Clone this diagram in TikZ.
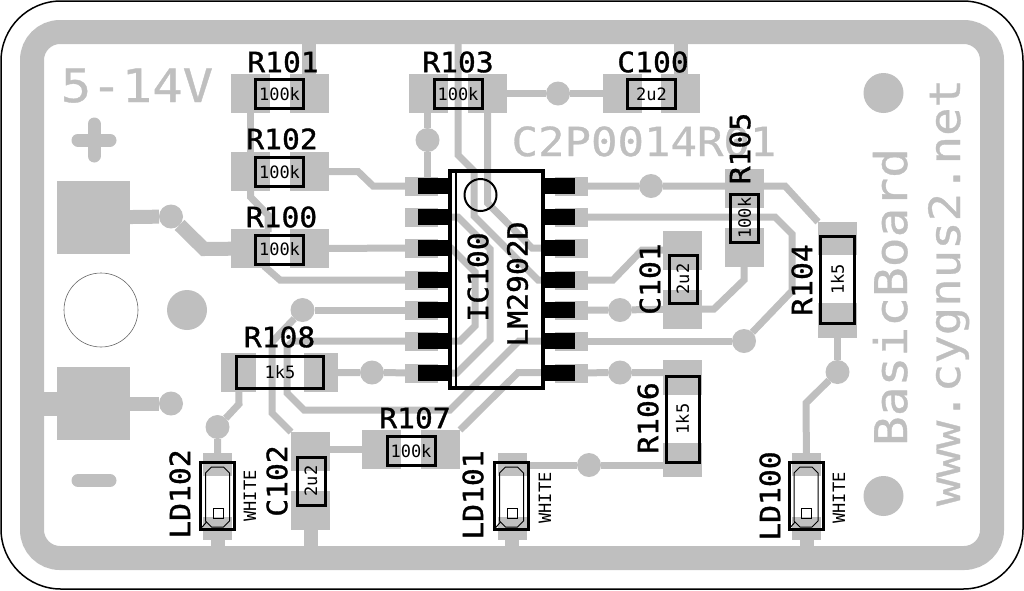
\documentclass[tikz,border=0pt]{standalone}
\usepackage{fontspec}
\newfontfamily\tagfont[FakeStretch=1.06,FakeBold=1.2]{DejaVu Sans Mono}
\newfontfamily\valfont{DejaVu Sans Mono}
\newfontfamily\copperfont[FakeStretch=1.1,FakeBold=0.8]{DejaVu Sans Mono}
\definecolor{copper}{HTML}{BFBFBF}
\begin{document}
\begin{tikzpicture}[x=1pt,y=-1pt,
	pad/.style={fill=copper,inner sep=0,outer sep=0,minimum width=39pt,minimum height=39pt},
	pinpad/.style={fill=copper,inner sep=0,outer sep=0,minimum width=33pt,minimum height=19pt},
	ledpad/.style={fill=copper,inner sep=0,outer sep=0,minimum width=29pt,minimum height=23pt},
	bigpad/.style={fill=copper,inner sep=0,outer sep=0,minimum size=73pt},
	via/.style={circle,fill=copper,inner sep=0,outer sep=0,minimum size=24pt},
	screw/.style={circle,fill=copper,inner sep=0,outer sep=0,minimum size=40pt},
	pin/.style={fill=black,inner sep=0,outer sep=0,minimum width=31pt,minimum height=16pt},
	trace/.style={draw=copper,line width=7pt},
	power/.style={draw=copper,line width=14pt},
	part/.style={draw=black,line width=3pt,inner sep=0,font=\valfont\fontsize{17}{17}\selectfont},
	tag/.style={inner sep=0,font=\tagfont\fontsize{28}{28}\selectfont},
	led/.style={inner sep=0,font=\valfont\fontsize{17}{17}\selectfont},
	ledbody/.pic={
		\draw[line width=1pt] (-12,-23) -- (-6,-29) -- (6,-29) -- (12,-23) -- (12,25) -- (6,31) -- (-6,31) -- (-12,25) -- cycle;
		\draw[line width=1pt] (-4.5,12) rectangle (5.5,22);
		\draw[line width=1pt] (-17,33) -- (-11,26);
	}]
	\useasboundingbox (0,0) rectangle (1024,590);
	\coordinate (railt) at (0,32);
	\coordinate (railb) at (0,558);
	\coordinate (raill) at (32,0);
	\coordinate (r100t) at (264,266);

	%board
	\draw[line width=1.5pt,rounded corners=60pt] (1,1) rectangle (1023,589);
	\draw[copper,line width=24pt,rounded corners=28pt] (32,32) rectangle (992,558);

	%copper text
	\node[copper,anchor=base,inner sep=0,font=\copperfont\fontsize{46}{46}\selectfont] (volt) at (137,102) {5-14V};
	\node[copper,anchor=base,inner sep=0,font=\copperfont\fontsize{40}{40}\selectfont] (rev) at (644,156) {C2P0014R01};
	\node[copper,anchor=base,inner sep=0,rotate=90,font=\copperfont\fontsize{45}{45}\selectfont] (brd) at (907,297) {BasicBoard};
	\node[copper,anchor=base,inner sep=0,rotate=90,font=\copperfont\fontsize{43}{43}\selectfont] (web) at (960,292.5) {www.cygnus2.net};
	\draw[copper,line width=13pt,line cap=round] (78,140) -- (110,140);
	\draw[copper,line width=13pt,line cap=round] (94,124) -- (94,156);
	\draw[copper,line width=13pt,line cap=round] (78,480.5) -- (110,480.5);

	%holes and screws
	\node[circle,draw=black!60,line width=.6pt,inner sep=0,minimum size=74pt] (hole) at (101,310) {};
	\node[screw] (scr1) at (187,310) {};
	\node[screw] (scr2) at (883.5,93) {};
	\node[screw] (scr3) at (883.5,496) {};

	%big pads
	\node[bigpad] (big1) at (93.5,217.5) {};
	\node[bigpad] (big2) at (93.5,403.5) {};

	%resistor pads
	\node[pad] (r101a) at (250.5,93.5) {};
	\node[pad] (r101b) at (309,93.5) {};
	\node[pad] (r102a) at (250.5,171.5) {};
	\node[pad] (r102b) at (309,171.5) {};
	\node[pad] (r100a) at (250.5,248.5) {};
	\node[pad] (r100b) at (309,248.5) {};
	\node[pad] (r103a) at (428.5,93.5) {};
	\node[pad] (r103b) at (487.5,93.5) {};
	\node[pad] (c100a) at (622,93.5) {};
	\node[pad] (c100b) at (680.5,93.5) {};
	\node[pad] (r105a) at (744,188.5) {};
	\node[pad] (r105b) at (744,247) {};
	\node[pad] (c101a) at (682.5,250) {};
	\node[pad] (c101b) at (682.5,309) {};
	\node[pad,minimum height=33pt] (r104a) at (837.5,238.5) {};
	\node[pad,minimum height=35pt] (r104b) at (837.5,320.5) {};
	\node[pad,minimum height=35pt] (r106a) at (682.5,377.5) {};
	\node[pad,minimum height=34pt] (r106b) at (682.5,460) {};
	\node[pad,minimum width=35pt] (r108a) at (238.5,372.5) {};
	\node[pad,minimum width=34pt] (r108b) at (321,372.5) {};
	\node[pad] (r107a) at (381.5,449.5) {};
	\node[pad] (r107b) at (440.5,449.5) {};
	\node[pad] (c102a) at (310.5,451.5) {};
	\node[pad] (c102b) at (310.5,510) {};

	%led pads
	\node[ledpad] (ld102a) at (217.5,464.5) {};
	\node[ledpad] (ld102b) at (217.5,528.5) {};
	\node[ledpad] (ld101a) at (512,464.5) {};
	\node[ledpad] (ld101b) at (512,528.5) {};
	\node[ledpad] (ld100a) at (806.5,464.5) {};
	\node[ledpad] (ld100b) at (806.5,528.5) {};

	%ic pads
	\node[pinpad] (pad1l) at (421.5,186) {};
	\node[pinpad] (pad2l) at (421.5,217) {};
	\node[pinpad] (pad3l) at (421.5,248) {};
	\node[pinpad] (pad4l) at (421.5,280) {};
	\node[pinpad] (pad5l) at (421.5,310) {};
	\node[pinpad] (pad6l) at (421.5,341) {};
	\node[pinpad] (pad7l) at (421.5,373) {};
	\node[pinpad] (pad1r) at (571.5,186) {};
	\node[pinpad] (pad2r) at (571.5,217) {};
	\node[pinpad] (pad3r) at (571.5,248) {};
	\node[pinpad] (pad4r) at (571.5,280) {};
	\node[pinpad] (pad5r) at (571.5,310) {};
	\node[pinpad] (pad6r) at (571.5,341) {};
	\node[pinpad] (pad7r) at (571.5,373) {};

	%vias
	\node[via] (via1) at (171,216.5) {};
	\node[via] (via2) at (427.5,140) {};
	\node[via] (via3) at (558,93.5) {};
	\node[via] (via4) at (651,186) {};
	\node[via] (via5) at (744,341) {};
	\node[via] (via6) at (620,310) {};
	\node[via] (via7) at (620,372.5) {};
	\node[via] (via8) at (589,465) {};
	\node[via] (via9) at (837.5,372) {};
	\node[via] (via10) at (217.5,427) {};
	\node[via] (via11) at (372,372.5) {};
	\node[via] (via12) at (302.5,310) {};
	\node[via] (via13) at (171,403.5) {};

	%power traces
	\draw[power] (r101b |- railt) -- (r101b);
	\draw[power] (c100b |- railt) -- (c100b);
	\draw[power] (ld102b) -- (ld102b |- railb);
	\draw[power] (ld101b) -- (ld101b |- railb);
	\draw[power] (ld100b) -- (ld100b |- railb);
	\draw[power] (c102b) -- (c102b |- railb);
	\draw[power] (big1) -- (via1) -- (204,249) -- (r100a);
	\draw[power] (big2) -- (via13);
	\draw[copper,line width=24pt] (raill |- big2) -- (big2);

	%signal traces
	\draw[trace] (r101a) -- (r102a);
	\draw[trace] (r102a) -- (250.5,197) -- (268,215) -- (268,232);
	\draw[trace] (r102b) -- (358,171.5) -- (373,186) -- (pad1l);
	\draw[trace] (r100b) -- (pad3l);
	\draw[trace] (r100t) -- (280,280) -- (pad4l);
	\draw[trace] (via2) -- (via2 |- r103a.south);
	\draw[trace] (via2) -- (via2 |- pad1l.north);
	\draw[trace] (458,32) -- (458,155) -- (474,171) -- (474,216) -- (538,280) -- (pad4r);
	\draw[trace] (r103b) -- (487.5,203) -- (532,248) -- (pad3r);
	\draw[trace] (r103b) -- (via3) -- (c100a);
	\draw[trace] (pad1r) -- (via4) -- (785,186) -- (r104a.north west);
	\draw[trace] (pad2r) -- (775,217) -- (792,234) -- (792,291) -- (via5);
	\draw[trace] (pad6r) -- (via5);
	\draw[trace] (pad4r) -- (613,280) -- (642,250) -- (c101a);
	\draw[trace] (pad5r) -- (via6) -- (c101b);
	\draw[trace] (c101b) -- (714,309) -- (744,280) -- (r105b);
	\draw[trace] (pad7r) -- (via7) -- (r106a.west |- via7);
	\draw[trace] (r106b.west |- via8) -- (via8) -- (ld101a.east |- via8);
	\draw[trace] (r104b) -- (via9);
	\draw[trace] (via9) -- (806,403) -- (ld100a);
	\draw[trace] (ld102a) -- (via10) -- (239,404) -- (r108a);
	\draw[trace] (r108b) -- (via11) -- (pad7l);
	\draw[trace] (via12) -- (pad5l);
	\draw[trace] (via12) -- (272,342) -- (272,413) -- (c102a.north west);
	\draw[trace] (pad6l) -- (293,341) -- (287,347) -- (287,393) -- (304,410) -- (450,410) -- (519,341) -- (pad6r);
	\draw[trace] (r107a -| c102a.east) -- (r107a);
	\draw[trace] (r107b.north east) -- (518,372.5) -- (pad7r);
	\draw[trace] (pad2l) -- (458,217) -- (490,249) -- (490,340) -- (457,373) -- (pad7l);
	\draw[trace] (pad3l) -- (451,248) -- (475,272) -- (475,326) -- (460,341) -- (pad6l);

	%ic pins
	\node[pin] (pin1l) at (433.5,186) {};
	\node[pin] (pin2l) at (433.5,217) {};
	\node[pin] (pin3l) at (433.5,248) {};
	\node[pin] (pin4l) at (433.5,280) {};
	\node[pin] (pin5l) at (433.5,310) {};
	\node[pin] (pin6l) at (433.5,341) {};
	\node[pin] (pin7l) at (433.5,373) {};
	\node[pin] (pin1r) at (559.5,186) {};
	\node[pin] (pin2r) at (559.5,217) {};
	\node[pin] (pin3r) at (559.5,248) {};
	\node[pin] (pin4r) at (559.5,280) {};
	\node[pin] (pin5r) at (559.5,310) {};
	\node[pin] (pin6r) at (559.5,341) {};
	\node[pin] (pin7r) at (559.5,373) {};

	%ic body
	\node[draw=black,line width=4pt,inner sep=0,minimum width=93pt,minimum height=217pt] (ic) at (496.5,279.5) {};
	\draw[line width=2.5pt] (ic.north west) ++ (8,0) -- ([xshift=8pt]ic.south west);
	\node[circle,draw=black,line width=2pt,inner sep=0,minimum size=32pt] (dot) at (480.5,195) {};

	%parts
	\node[part,minimum width=48pt,minimum height=29pt] (r101) at (279.5,94) {100k};
	\node[part,minimum width=48pt,minimum height=29pt] (r102) at (279.5,172) {100k};
	\node[part,minimum width=48pt,minimum height=29pt] (r100) at (279.5,249.5) {100k};
	\node[part,minimum width=48pt,minimum height=29pt] (r103) at (458,94) {100k};
	\node[part,minimum width=48pt,minimum height=29pt] (c100) at (651.5,94) {2u2};
	\node[part,minimum width=48pt,minimum height=29pt] (r107) at (411,451) {100k};
	\node[part,minimum width=87pt,minimum height=32pt] (r108) at (280,372) {1k5};
	\node[part,rotate=90,minimum width=48pt,minimum height=28pt] (r105) at (744.5,218) {100k};
	\node[part,rotate=90,minimum width=48pt,minimum height=28pt] (c101) at (683,279) {2u2};
	\node[part,rotate=90,minimum width=48pt,minimum height=28pt] (c102) at (311,481) {2u2};
	\node[part,rotate=90,minimum width=87pt,minimum height=34pt] (r104) at (837.5,279.5) {1k5};
	\node[part,rotate=90,minimum width=86pt,minimum height=33pt] (r106) at (682.5,419) {1k5};

	%leds
	\node[draw=black,line width=3pt,inner sep=0,minimum width=34pt,minimum height=67pt] (ld102) at (217.5,496) {};
	\node[draw=black,line width=3pt,inner sep=0,minimum width=34pt,minimum height=67pt] (ld101) at (511.5,496) {};
	\node[draw=black,line width=3pt,inner sep=0,minimum width=34pt,minimum height=67pt] (ld100) at (806,496) {};
	\pic at (ld102) {ledbody};
	\pic at (ld101) {ledbody};
	\pic at (ld100) {ledbody};
	\node[led,rotate=90] (white2) at (250,496) {WHITE};
	\node[led,rotate=90] (white1) at (545,498) {WHITE};
	\node[led,rotate=90] (white0) at (839,498) {WHITE};

	%names
	\node[tag] (n101) at (283,62) {R101};
	\node[tag] (n102) at (282,139) {R102};
	\node[tag] (n100) at (281.5,217) {R100};
	\node[tag] (n103) at (458,62) {R103};
	\node[tag] (n104) at (653,62) {C100};
	\node[tag] (n108) at (279.5,337) {R108};
	\node[tag] (n107) at (415,418) {R107};
	\node[tag,rotate=90] (n105) at (740,148.5) {R105};
	\node[tag,rotate=90] (n109) at (802,280) {R104};
	\node[tag,rotate=90] (n106) at (648,418) {R106};
	\node[tag,rotate=90] (n110) at (650,279) {C101};
	\node[tag,rotate=90] (n111) at (277,481) {C102};
	\node[tag,rotate=90] (n112) at (180,494) {LD102};
	\node[tag,rotate=90] (n113) at (473,495) {LD101};
	\node[tag,rotate=90] (n114) at (770,496) {LD100};
	\node[tag,rotate=90] (n115) at (478,277) {IC100};
	\node[tag,rotate=90] (n116) at (517.5,284) {LM2902D};
\end{tikzpicture}
\end{document}
